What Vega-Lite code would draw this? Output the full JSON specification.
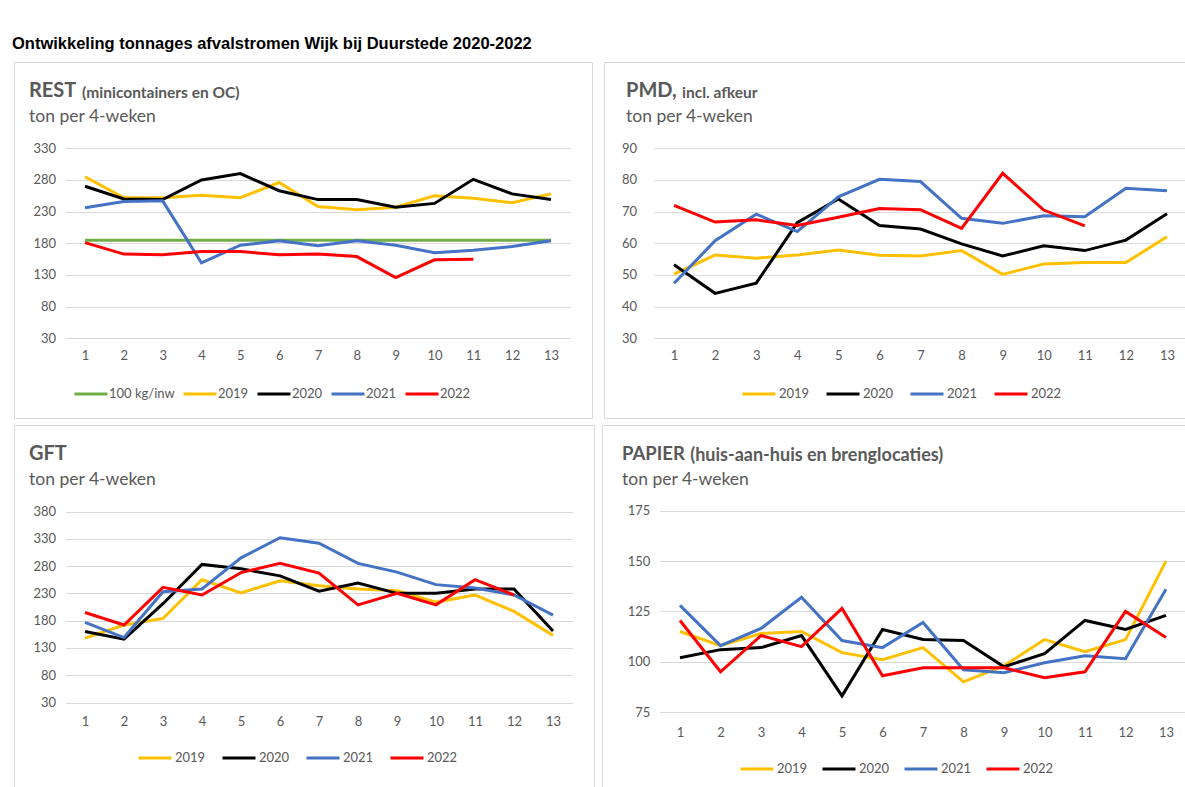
{
  "$schema": "https://vega.github.io/schema/vega-lite/v6.json",
  "background": "white",
  "padding": {"left": 12, "top": 36, "right": 0, "bottom": 0},
  "title": {"text": "Ontwikkeling tonnages afvalstromen Wijk bij Duurstede 2020-2022", "anchor": "start", "frame": "group", "font": "Liberation Sans", "fontSize": 16.5, "fontWeight": "bold", "color": "#000000", "offset": 9, "dx": -2},
  "datasets": {
    "rest": [
      {"p":1,"s":"100 kg/inw","v":185},{"p":2,"s":"100 kg/inw","v":185},{"p":3,"s":"100 kg/inw","v":185},{"p":4,"s":"100 kg/inw","v":185},{"p":5,"s":"100 kg/inw","v":185},{"p":6,"s":"100 kg/inw","v":185},{"p":7,"s":"100 kg/inw","v":185},{"p":8,"s":"100 kg/inw","v":185},{"p":9,"s":"100 kg/inw","v":185},{"p":10,"s":"100 kg/inw","v":185},{"p":11,"s":"100 kg/inw","v":185},{"p":12,"s":"100 kg/inw","v":185},{"p":13,"s":"100 kg/inw","v":185},
      {"p":1,"s":"2019","v":285},{"p":2,"s":"2019","v":252},{"p":3,"s":"2019","v":252},{"p":4,"s":"2019","v":256},{"p":5,"s":"2019","v":252},{"p":6,"s":"2019","v":276},{"p":7,"s":"2019","v":238},{"p":8,"s":"2019","v":233},{"p":9,"s":"2019","v":237},{"p":10,"s":"2019","v":255},{"p":11,"s":"2019","v":251},{"p":12,"s":"2019","v":244},{"p":13,"s":"2019","v":258},
      {"p":1,"s":"2020","v":270},{"p":2,"s":"2020","v":250},{"p":3,"s":"2020","v":249},{"p":4,"s":"2020","v":280},{"p":5,"s":"2020","v":290},{"p":6,"s":"2020","v":263},{"p":7,"s":"2020","v":249},{"p":8,"s":"2020","v":249},{"p":9,"s":"2020","v":237},{"p":10,"s":"2020","v":243},{"p":11,"s":"2020","v":281},{"p":12,"s":"2020","v":258},{"p":13,"s":"2020","v":249},
      {"p":1,"s":"2021","v":236},{"p":2,"s":"2021","v":246},{"p":3,"s":"2021","v":247},{"p":4,"s":"2021","v":149},{"p":5,"s":"2021","v":177},{"p":6,"s":"2021","v":184},{"p":7,"s":"2021","v":176},{"p":8,"s":"2021","v":184},{"p":9,"s":"2021","v":177},{"p":10,"s":"2021","v":165},{"p":11,"s":"2021","v":169},{"p":12,"s":"2021","v":175},{"p":13,"s":"2021","v":184},
      {"p":1,"s":"2022","v":181},{"p":2,"s":"2022","v":163},{"p":3,"s":"2022","v":162},{"p":4,"s":"2022","v":167},{"p":5,"s":"2022","v":167},{"p":6,"s":"2022","v":162},{"p":7,"s":"2022","v":163},{"p":8,"s":"2022","v":159},{"p":9,"s":"2022","v":126},{"p":10,"s":"2022","v":154},{"p":11,"s":"2022","v":155}
    ],
    "pmd": [
      {"p":1,"s":"2019","v":50.3},{"p":2,"s":"2019","v":56.3},{"p":3,"s":"2019","v":55.3},{"p":4,"s":"2019","v":56.3},{"p":5,"s":"2019","v":57.9},{"p":6,"s":"2019","v":56.2},{"p":7,"s":"2019","v":56},{"p":8,"s":"2019","v":57.7},{"p":9,"s":"2019","v":50.2},{"p":10,"s":"2019","v":53.5},{"p":11,"s":"2019","v":53.9},{"p":12,"s":"2019","v":53.9},{"p":13,"s":"2019","v":62.1},
      {"p":1,"s":"2020","v":53.2},{"p":2,"s":"2020","v":44.2},{"p":3,"s":"2020","v":47.4},{"p":4,"s":"2020","v":66.5},{"p":5,"s":"2020","v":74},{"p":6,"s":"2020","v":65.6},{"p":7,"s":"2020","v":64.5},{"p":8,"s":"2020","v":59.8},{"p":9,"s":"2020","v":56},{"p":10,"s":"2020","v":59.2},{"p":11,"s":"2020","v":57.7},{"p":12,"s":"2020","v":61},{"p":13,"s":"2020","v":69.3},
      {"p":1,"s":"2021","v":47.4},{"p":2,"s":"2021","v":60.8},{"p":3,"s":"2021","v":69.2},{"p":4,"s":"2021","v":63.7},{"p":5,"s":"2021","v":74.7},{"p":6,"s":"2021","v":80.2},{"p":7,"s":"2021","v":79.5},{"p":8,"s":"2021","v":67.9},{"p":9,"s":"2021","v":66.3},{"p":10,"s":"2021","v":68.7},{"p":11,"s":"2021","v":68.4},{"p":12,"s":"2021","v":77.4},{"p":13,"s":"2021","v":76.6},
      {"p":1,"s":"2022","v":72},{"p":2,"s":"2022","v":66.7},{"p":3,"s":"2022","v":67.4},{"p":4,"s":"2022","v":65.6},{"p":5,"s":"2022","v":68.2},{"p":6,"s":"2022","v":71},{"p":7,"s":"2022","v":70.6},{"p":8,"s":"2022","v":64.7},{"p":9,"s":"2022","v":82.1},{"p":10,"s":"2022","v":70.5},{"p":11,"s":"2022","v":65.5}
    ],
    "gft": [
      {"p":1,"s":"2019","v":148},{"p":2,"s":"2019","v":172},{"p":3,"s":"2019","v":184},{"p":4,"s":"2019","v":255},{"p":5,"s":"2019","v":231},{"p":6,"s":"2019","v":253},{"p":7,"s":"2019","v":244},{"p":8,"s":"2019","v":238},{"p":9,"s":"2019","v":235},{"p":10,"s":"2019","v":214},{"p":11,"s":"2019","v":227},{"p":12,"s":"2019","v":197},{"p":13,"s":"2019","v":153},
      {"p":1,"s":"2020","v":160},{"p":2,"s":"2020","v":146},{"p":3,"s":"2020","v":211},{"p":4,"s":"2020","v":283},{"p":5,"s":"2020","v":275},{"p":6,"s":"2020","v":262},{"p":7,"s":"2020","v":234},{"p":8,"s":"2020","v":249},{"p":9,"s":"2020","v":230},{"p":10,"s":"2020","v":230},{"p":11,"s":"2020","v":238},{"p":12,"s":"2020","v":238},{"p":13,"s":"2020","v":161},
      {"p":1,"s":"2021","v":177},{"p":2,"s":"2021","v":149},{"p":3,"s":"2021","v":233},{"p":4,"s":"2021","v":238},{"p":5,"s":"2021","v":295},{"p":6,"s":"2021","v":332},{"p":7,"s":"2021","v":322},{"p":8,"s":"2021","v":285},{"p":9,"s":"2021","v":269},{"p":10,"s":"2021","v":246},{"p":11,"s":"2021","v":240},{"p":12,"s":"2021","v":227},{"p":13,"s":"2021","v":190},
      {"p":1,"s":"2022","v":195},{"p":2,"s":"2022","v":172},{"p":3,"s":"2022","v":241},{"p":4,"s":"2022","v":227},{"p":5,"s":"2022","v":268},{"p":6,"s":"2022","v":285},{"p":7,"s":"2022","v":267},{"p":8,"s":"2022","v":209},{"p":9,"s":"2022","v":230},{"p":10,"s":"2022","v":209},{"p":11,"s":"2022","v":255},{"p":12,"s":"2022","v":227}
    ],
    "papier": [
      {"p":1,"s":"2019","v":115},{"p":2,"s":"2019","v":108},{"p":3,"s":"2019","v":114},{"p":4,"s":"2019","v":115},{"p":5,"s":"2019","v":104.5},{"p":6,"s":"2019","v":101},{"p":7,"s":"2019","v":107},{"p":8,"s":"2019","v":90},{"p":9,"s":"2019","v":98},{"p":10,"s":"2019","v":111},{"p":11,"s":"2019","v":105},{"p":12,"s":"2019","v":111},{"p":13,"s":"2019","v":150},
      {"p":1,"s":"2020","v":102},{"p":2,"s":"2020","v":106},{"p":3,"s":"2020","v":107},{"p":4,"s":"2020","v":113},{"p":5,"s":"2020","v":83},{"p":6,"s":"2020","v":116},{"p":7,"s":"2020","v":111},{"p":8,"s":"2020","v":110.5},{"p":9,"s":"2020","v":97.5},{"p":10,"s":"2020","v":104},{"p":11,"s":"2020","v":120.5},{"p":12,"s":"2020","v":116},{"p":13,"s":"2020","v":123},
      {"p":1,"s":"2021","v":128},{"p":2,"s":"2021","v":108},{"p":3,"s":"2021","v":116.5},{"p":4,"s":"2021","v":132},{"p":5,"s":"2021","v":110.5},{"p":6,"s":"2021","v":107},{"p":7,"s":"2021","v":119.5},{"p":8,"s":"2021","v":96},{"p":9,"s":"2021","v":94.5},{"p":10,"s":"2021","v":99.5},{"p":11,"s":"2021","v":103},{"p":12,"s":"2021","v":101.5},{"p":13,"s":"2021","v":136},
      {"p":1,"s":"2022","v":120.5},{"p":2,"s":"2022","v":95},{"p":3,"s":"2022","v":113},{"p":4,"s":"2022","v":107.5},{"p":5,"s":"2022","v":126.5},{"p":6,"s":"2022","v":93},{"p":7,"s":"2022","v":97},{"p":8,"s":"2022","v":97},{"p":9,"s":"2022","v":97},{"p":10,"s":"2022","v":92},{"p":11,"s":"2022","v":95},{"p":12,"s":"2022","v":125},{"p":13,"s":"2022","v":112}
    ]
  },
  "spacing": 5,
  "resolve": {"scale": {"color": "independent", "x": "independent", "y": "independent"}, "legend": {"color": "independent"}},
  "vconcat": [
    {
      "spacing": 10,
      "resolve": {"scale": {"color": "independent", "x": "independent", "y": "independent"}, "legend": {"color": "independent"}},
      "hconcat": [
        {
          "width": 578, "height": 356,
          "title": {"text": "REST", "subtitle": "ton per 4-weken", "dx": 15, "dy": 67},
          "data": {"name": "rest"},
          "mark": {"type": "line", "strokeWidth": 3},
          "encoding": {
            "x": {"field": "p", "type": "ordinal", "scale": {"type": "point", "padding": 0.5, "range": [51.6, 556.4]}, "axis": {"offset": -79.7, "labelPadding": 11, "title": null, "labelAngle": 0}},
            "y": {"field": "v", "type": "quantitative", "scale": {"domain": [30, 330], "range": [276.3, 86.3], "nice": false, "zero": false}, "axis": {"values": [30, 80, 130, 180, 230, 280, 330], "offset": -51.6, "labelPadding": 10, "grid": true, "title": "(minicontainers en OC)", "titleX": 16, "titleY": 35}},
            "color": {"field": "s", "type": "nominal", "scale": {"domain": ["100 kg/inw", "2019", "2020", "2021", "2022"], "range": ["#70AD47", "#FFC000", "#000000", "#4472C4", "#FF0000"]}, "legend": {"orient": "none", "legendX": 59, "legendY": 314, "direction": "horizontal", "title": null, "columnPadding": 2, "labelOffset": 0}}
          }
        },
        {
          "width": 585, "height": 356,
          "title": {"text": "PMD,", "subtitle": "ton per 4-weken", "dx": 22, "dy": 67},
          "data": {"name": "pmd"},
          "mark": {"type": "line", "strokeWidth": 3},
          "encoding": {
            "x": {"field": "p", "type": "ordinal", "scale": {"type": "point", "padding": 0.5, "range": [49.5, 583.5]}, "axis": {"offset": -79.7, "labelPadding": 11, "title": null, "labelAngle": 0}},
            "y": {"field": "v", "type": "quantitative", "scale": {"domain": [30, 90], "range": [276.3, 86.3], "nice": false, "zero": false}, "axis": {"values": [30, 40, 50, 60, 70, 80, 90], "offset": -49.5, "labelPadding": 17, "grid": true, "title": "incl. afkeur", "titleX": 28, "titleY": 35}},
            "color": {"field": "s", "type": "nominal", "scale": {"domain": ["2019", "2020", "2021", "2022"], "range": ["#FFC000", "#000000", "#4472C4", "#FF0000"]}, "legend": {"orient": "none", "legendX": 137, "legendY": 314, "direction": "horizontal", "title": null, "columnPadding": 10}}
          }
        }
      ]
    },
    {
      "spacing": 6,
      "resolve": {"scale": {"color": "independent", "x": "independent", "y": "independent"}, "legend": {"color": "independent"}},
      "hconcat": [
        {
          "width": 580, "height": 362,
          "title": {"text": "GFT", "subtitle": "ton per 4-weken", "dx": 15, "dy": 67},
          "data": {"name": "gft"},
          "mark": {"type": "line", "strokeWidth": 3},
          "encoding": {
            "x": {"field": "p", "type": "ordinal", "scale": {"type": "point", "padding": 0.5, "range": [51.5, 558.5]}, "axis": {"offset": -84.5, "labelPadding": 13, "title": null, "labelAngle": 0}},
            "y": {"field": "v", "type": "quantitative", "scale": {"domain": [30, 380], "range": [277.5, 86.5], "nice": false, "zero": false}, "axis": {"values": [30, 80, 130, 180, 230, 280, 330, 380], "offset": -51.5, "labelPadding": 10, "grid": true, "title": null}},
            "color": {"field": "s", "type": "nominal", "scale": {"domain": ["2019", "2020", "2021", "2022"], "range": ["#FFC000", "#000000", "#4472C4", "#FF0000"]}, "legend": {"orient": "none", "legendX": 123, "legendY": 315, "direction": "horizontal", "title": null, "columnPadding": 10}}
          }
        },
        {
          "width": 587, "height": 362,
          "title": {"text": "PAPIER", "subtitle": "ton per 4-weken", "dx": 20, "dy": 67, "fontSize": 18.5},
          "data": {"name": "papier"},
          "mark": {"type": "line", "strokeWidth": 3},
          "encoding": {
            "x": {"field": "p", "type": "ordinal", "scale": {"type": "point", "padding": 0.5, "range": [57.75, 584.25]}, "axis": {"offset": -75, "labelPadding": 14, "title": null, "labelAngle": 0}},
            "y": {"field": "v", "type": "quantitative", "scale": {"domain": [75, 175], "range": [287, 85.8], "nice": false, "zero": false}, "axis": {"values": [75, 100, 125, 150, 175], "offset": -57.75, "labelPadding": 10, "grid": true, "title": "(huis-aan-huis en brenglocaties)", "titleX": 30, "titleY": 35, "titleFontSize": 18}},
            "color": {"field": "s", "type": "nominal", "scale": {"domain": ["2019", "2020", "2021", "2022"], "range": ["#FFC000", "#000000", "#4472C4", "#FF0000"]}, "legend": {"orient": "none", "legendX": 137, "legendY": 326, "direction": "horizontal", "title": null}}
          }
        }
      ]
    }
  ],
  "config": {
    "font": "Lato",
    "view": {"stroke": "#d9d9d9", "strokeWidth": 1},
    "title": {"anchor": "start", "frame": "group", "offset": 0, "font": "Lato", "fontSize": 20, "fontWeight": "bold", "color": "#595959", "subtitleFont": "Lato", "subtitleFontSize": 17.5, "subtitleColor": "#595959", "subtitlePadding": 7},
    "axis": {"labelFont": "Lato", "labelFontSize": 13, "labelColor": "#595959", "ticks": false, "domain": false, "gridColor": "#d9d9d9", "gridWidth": 1, "titleFont": "Lato", "titleFontSize": 15.5, "titleFontWeight": "bold", "titleColor": "#595959", "titleAngle": 0, "titleAlign": "left", "titleBaseline": "alphabetic", "titlePadding": 0},
    "axisX": {"grid": false},
    "legend": {"symbolType": "stroke", "symbolSize": 1089, "symbolStrokeWidth": 3, "labelFont": "Lato", "labelFontSize": 13, "labelColor": "#595959", "labelOffset": 2, "columnPadding": 8}
  }
}
